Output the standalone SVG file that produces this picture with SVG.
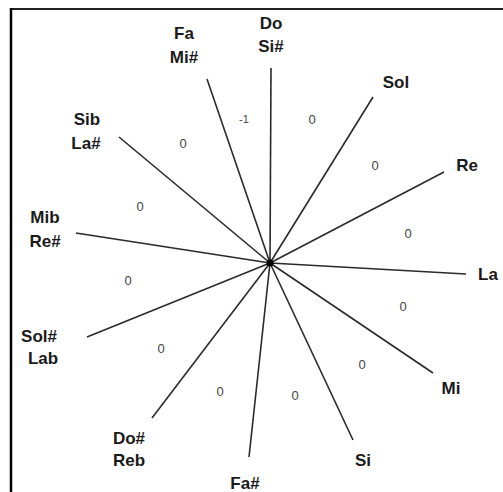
<svg xmlns="http://www.w3.org/2000/svg" width="503" height="492" viewBox="0 0 503 492">
<style>
.lab{font-family:"Liberation Sans",Arial,sans-serif;font-weight:bold;font-size:17px;fill:#1a1a1a;text-anchor:middle}
.num{font-family:"Liberation Sans",Arial,sans-serif;font-size:13px;fill:#444;text-anchor:middle}
.ray{stroke:#2a2a2a;stroke-width:1.6;fill:none}
</style>
<rect width="503" height="492" fill="#fff"/>
<line x1="11" y1="9" x2="503" y2="9" stroke="#222" stroke-width="2"/>
<line x1="11" y1="8" x2="11" y2="492" stroke="#000" stroke-width="2.5"/>
<g id="connectors">
<line class="ray" x1="270" y1="263" x2="271" y2="68"/>
<line class="ray" x1="270" y1="263" x2="373" y2="97"/>
<line class="ray" x1="270" y1="263" x2="444" y2="172"/>
<line class="ray" x1="270" y1="263" x2="466" y2="274"/>
<line class="ray" x1="270" y1="263" x2="433" y2="373"/>
<line class="ray" x1="270" y1="263" x2="353" y2="440"/>
<line class="ray" x1="270" y1="263" x2="249" y2="457"/>
<line class="ray" x1="270" y1="263" x2="152" y2="418"/>
<line class="ray" x1="270" y1="263" x2="87" y2="337"/>
<line class="ray" x1="270" y1="263" x2="76" y2="233"/>
<line class="ray" x1="270" y1="263" x2="119" y2="137"/>
<line class="ray" x1="270" y1="263" x2="207" y2="79"/>
<circle cx="270" cy="263" r="3.5" fill="#000"/>
</g>
<g id="n-do"><text class="lab" x="271" y="29">Do</text><text class="lab" x="271" y="52">Si#</text></g>
<g id="n-sol"><text class="lab" x="396" y="88">Sol</text></g>
<g id="n-re"><text class="lab" x="467" y="171">Re</text></g>
<g id="n-la"><text class="lab" x="478" y="280" style="text-anchor:start">La</text></g>
<g id="n-mi"><text class="lab" x="451" y="394">Mi</text></g>
<g id="n-si"><text class="lab" x="363" y="466">Si</text></g>
<g id="n-fas"><text class="lab" x="245" y="489">Fa#</text></g>
<g id="n-dos"><text class="lab" x="129" y="444">Do#</text><text class="lab" x="129" y="466">Reb</text></g>
<g id="n-sols"><text class="lab" x="39" y="342">Sol#</text><text class="lab" x="43" y="364">Lab</text></g>
<g id="n-mib"><text class="lab" x="45" y="223">Mib</text><text class="lab" x="45" y="247">Re#</text></g>
<g id="n-sib"><text class="lab" x="87" y="125">Sib</text><text class="lab" x="86" y="149">La#</text></g>
<g id="n-fa"><text class="lab" x="184" y="39">Fa</text><text class="lab" x="184" y="63">Mi#</text></g>
<g id="values">
<text class="num" x="244" y="123" style="font-size:11px">-1</text>
<text class="num" x="312" y="124">0</text>
<text class="num" x="375" y="170">0</text>
<text class="num" x="408" y="238">0</text>
<text class="num" x="403" y="311">0</text>
<text class="num" x="362" y="369">0</text>
<text class="num" x="295" y="400">0</text>
<text class="num" x="220" y="396">0</text>
<text class="num" x="161" y="353">0</text>
<text class="num" x="128" y="285">0</text>
<text class="num" x="140" y="211">0</text>
<text class="num" x="183" y="148">0</text>
</g>
</svg>
